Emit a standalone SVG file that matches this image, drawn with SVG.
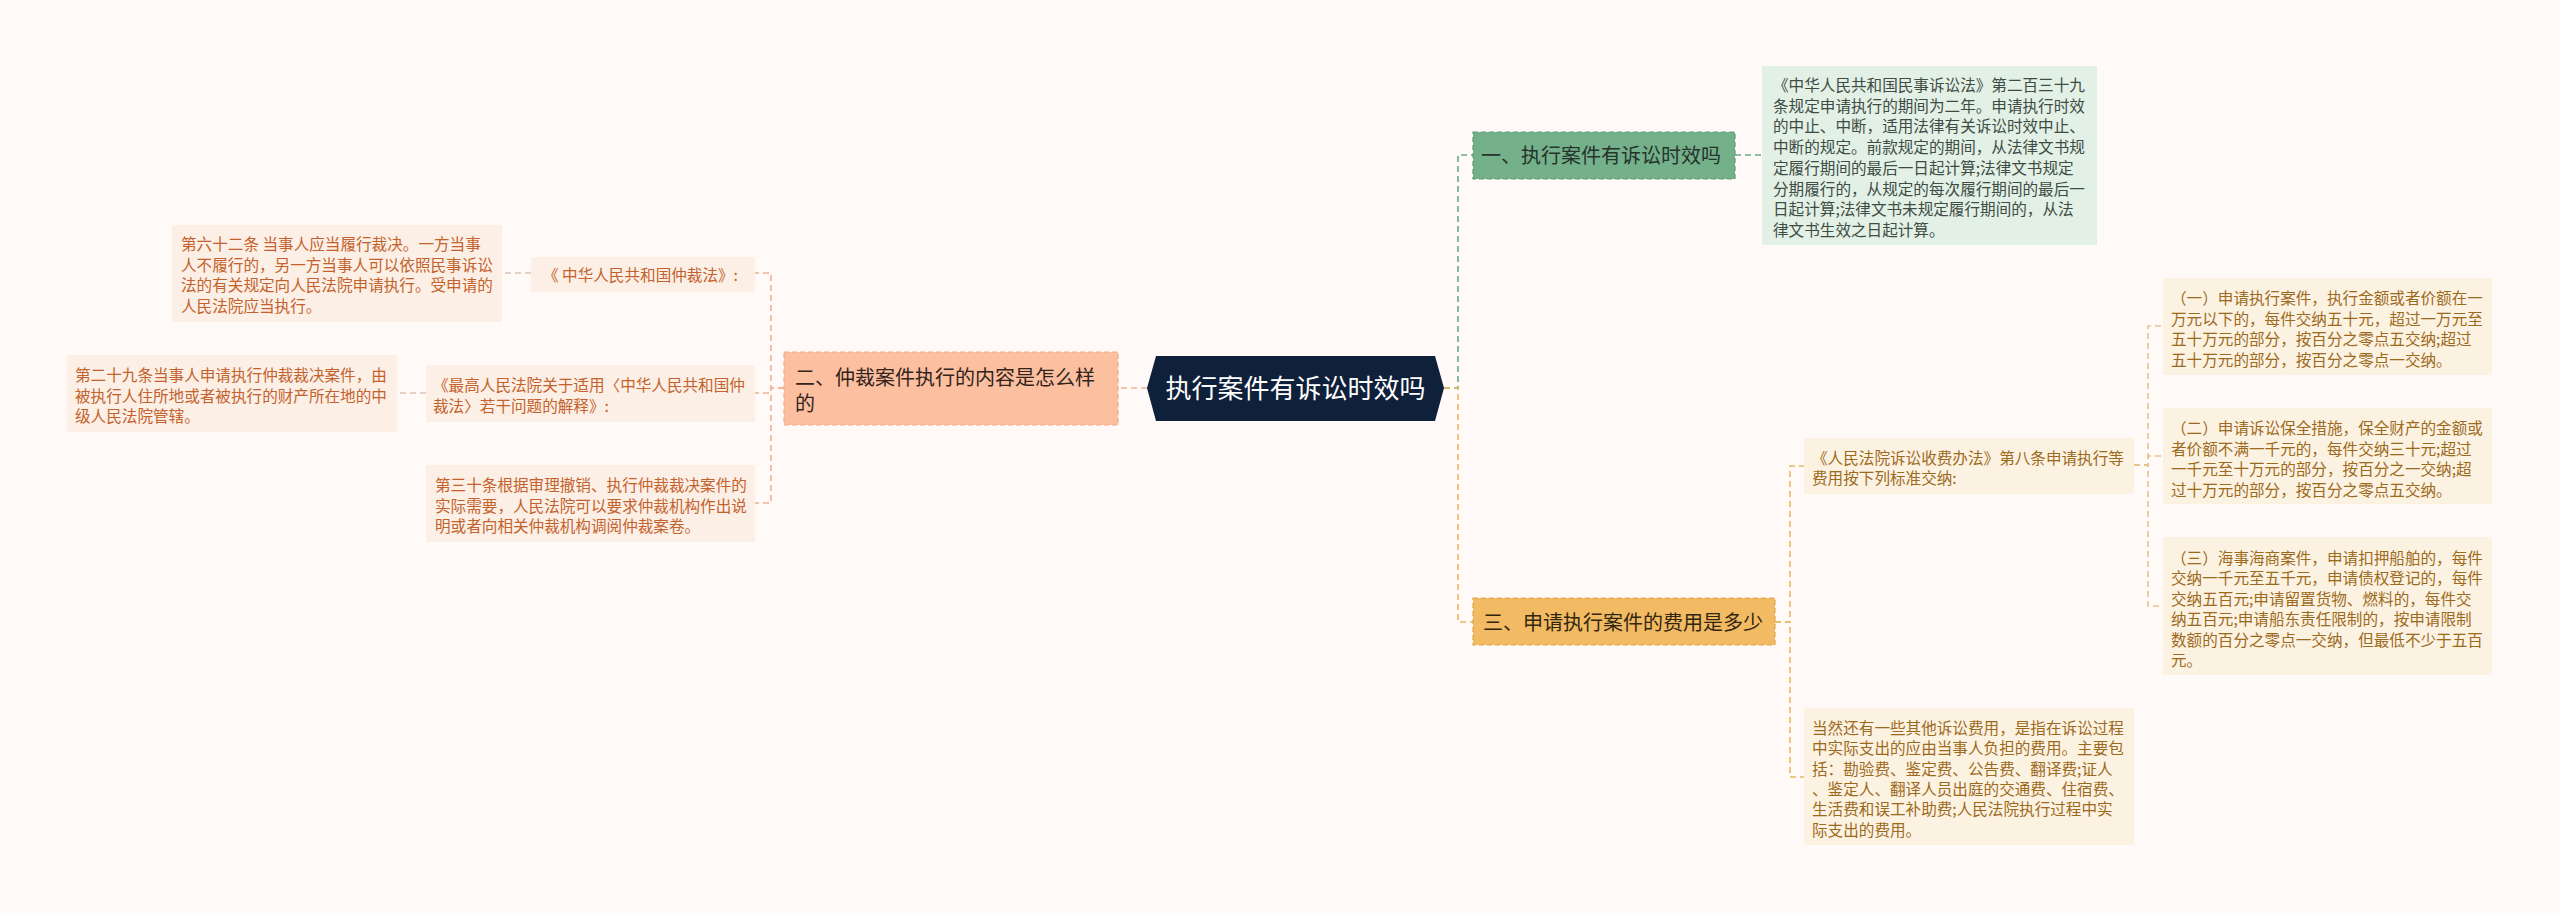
<svg xmlns="http://www.w3.org/2000/svg" width="2560" height="913" viewBox="0 0 2560 913">
<defs>
<style>
text{font-family:"Noto Sans CJK SC","Liberation Sans",sans-serif;}
.bg{fill:#fffaf8;}
.conn{fill:none;stroke-width:1.6;stroke-dasharray:6 4;}
.cg{stroke:#6aa982;}
.cy{stroke:#e6b862;}
.cs{stroke:#f4b295;}
.cl{stroke:#dcc2b2;}
.cyl{stroke:#e4c48a;}
.leaf{font-size:15.6px;}
.lo{fill:#c4622d;}
.ly{fill:#9c6a1c;}
.lg{fill:#3e4c44;}
.br{font-size:20px;}
</style>
</defs>
<rect class="bg" x="0" y="0" width="2560" height="913"/>

<g id="connectors">
<path class="conn cs" d="M1147,388 H1118"/>
<path class="conn cs" d="M784,388 H771 V273 H755"/>
<path class="conn cs" d="M784,388 H771 V393 H755"/>
<path class="conn cs" d="M784,388 H771 V503 H755"/>
<path class="conn cl" d="M531,273 H502"/>
<path class="conn cl" d="M426,393 H397"/>
<path class="conn cg" d="M1444,388 H1458 V155 H1473"/>
<path class="conn cg" d="M1735,155 H1762"/>
<path class="conn cy" d="M1444,388 H1458 V622 H1473"/>
<path class="conn cy" d="M1775,622 H1790 V466 H1804"/>
<path class="conn cy" d="M1775,622 H1790 V777 H1804"/>
<path class="conn cyl" d="M2134,465 H2148 V326 H2163"/>
<path class="conn cyl" d="M2134,465 H2148 V456 H2163"/>
<path class="conn cyl" d="M2134,465 H2148 V606 H2163"/>
</g>

<g id="center">
<polygon points="1147,388 1156,356 1435,356 1444,388 1435,421 1156,421" fill="#0f203a"/>
<text x="1295.5" y="398" font-size="26" fill="#ffffff" text-anchor="middle">执行案件有诉讼时效吗</text>
</g>

<g id="branch1">
<rect x="1473" y="132" width="262" height="47" fill="#74b08a" stroke="#5e9c74" stroke-width="1.2" stroke-dasharray="5 3"/>
<text class="br" x="1481" y="163" fill="#26342c">一、执行案件有诉讼时效吗</text>
</g>

<g id="b1-text">
<rect x="1762" y="66" width="335" height="179" fill="#e2f0e6"/>
<text class="leaf lg">
<tspan x="1773" y="91">《中华人民共和国民事诉讼法》第二百三十九</tspan>
<tspan x="1773" y="111.7">条规定申请执行的期间为二年。申请执行时效</tspan>
<tspan x="1773" y="132.4">的中止、中断，适用法律有关诉讼时效中止、</tspan>
<tspan x="1773" y="153.1">中断的规定。前款规定的期间，从法律文书规</tspan>
<tspan x="1773" y="173.8">定履行期间的最后一日起计算;法律文书规定</tspan>
<tspan x="1773" y="194.5">分期履行的，从规定的每次履行期间的最后一</tspan>
<tspan x="1773" y="215.2">日起计算;法律文书未规定履行期间的，从法</tspan>
<tspan x="1773" y="235.9">律文书生效之日起计算。</tspan>
</text>
</g>

<g id="branch2">
<rect x="784" y="352" width="334" height="73" fill="#fcbf9f" stroke="#f2a985" stroke-width="1.2" stroke-dasharray="5 3"/>
<text class="br" fill="#33241c">
<tspan x="795" y="384.6">二、仲裁案件执行的内容是怎么样</tspan>
<tspan x="795" y="410.6">的</tspan>
</text>
</g>

<g id="b2-a">
<rect x="531" y="257" width="224" height="35" fill="#fcefe5"/>
<text class="leaf lo" x="543" y="281">《 中华人民共和国仲裁法》:</text>
</g>

<g id="b2-a1">
<rect x="172" y="225" width="330" height="97" fill="#fcefe5"/>
<text class="leaf lo">
<tspan x="181" y="250">第六十二条 当事人应当履行裁决。一方当事</tspan>
<tspan x="181" y="270.5">人不履行的，另一方当事人可以依照民事诉讼</tspan>
<tspan x="181" y="291">法的有关规定向人民法院申请执行。受申请的</tspan>
<tspan x="181" y="311.5">人民法院应当执行。</tspan>
</text>
</g>

<g id="b2-b">
<rect x="426" y="365" width="329" height="57" fill="#fcefe5"/>
<text class="leaf lo">
<tspan x="433" y="391">《最高人民法院关于适用〈中华人民共和国仲</tspan>
<tspan x="433" y="411.5">裁法〉若干问题的解释》:</tspan>
</text>
</g>

<g id="b2-b1">
<rect x="67" y="355" width="330" height="77" fill="#fcefe5"/>
<text class="leaf lo">
<tspan x="75" y="381">第二十九条当事人申请执行仲裁裁决案件，由</tspan>
<tspan x="75" y="401.5">被执行人住所地或者被执行的财产所在地的中</tspan>
<tspan x="75" y="422">级人民法院管辖。</tspan>
</text>
</g>

<g id="b2-c">
<rect x="426" y="465" width="329" height="77" fill="#fcefe5"/>
<text class="leaf lo">
<tspan x="435" y="491">第三十条根据审理撤销、执行仲裁裁决案件的</tspan>
<tspan x="435" y="511.5">实际需要，人民法院可以要求仲裁机构作出说</tspan>
<tspan x="435" y="532">明或者向相关仲裁机构调阅仲裁案卷。</tspan>
</text>
</g>

<g id="branch3">
<rect x="1473" y="598" width="302" height="47" fill="#f1ba63" stroke="#e2a64a" stroke-width="1.2" stroke-dasharray="5 3"/>
<text class="br" x="1483" y="629.5" fill="#33260f">三、申请执行案件的费用是多少</text>
</g>

<g id="b3-d">
<rect x="1804" y="438" width="330" height="56" fill="#fcf2e2"/>
<text class="leaf ly">
<tspan x="1812" y="464">《人民法院诉讼收费办法》第八条申请执行等</tspan>
<tspan x="1812" y="484">费用按下列标准交纳:</tspan>
</text>
</g>

<g id="b3-d1">
<rect x="2163" y="278" width="329" height="97" fill="#fcf2e2"/>
<text class="leaf ly">
<tspan x="2171" y="304">（一）申请执行案件，执行金额或者价额在一</tspan>
<tspan x="2171" y="324.5">万元以下的，每件交纳五十元，超过一万元至</tspan>
<tspan x="2171" y="345">五十万元的部分，按百分之零点五交纳;超过</tspan>
<tspan x="2171" y="365.5">五十万元的部分，按百分之零点一交纳。</tspan>
</text>
</g>

<g id="b3-d2">
<rect x="2163" y="408" width="329" height="96" fill="#fcf2e2"/>
<text class="leaf ly">
<tspan x="2171" y="434">（二）申请诉讼保全措施，保全财产的金额或</tspan>
<tspan x="2171" y="454.5">者价额不满一千元的，每件交纳三十元;超过</tspan>
<tspan x="2171" y="475">一千元至十万元的部分，按百分之一交纳;超</tspan>
<tspan x="2171" y="495.5">过十万元的部分，按百分之零点五交纳。</tspan>
</text>
</g>

<g id="b3-d3">
<rect x="2163" y="537" width="329" height="138" fill="#fcf2e2"/>
<text class="leaf ly">
<tspan x="2171" y="564">（三）海事海商案件，申请扣押船舶的，每件</tspan>
<tspan x="2171" y="584.4">交纳一千元至五千元，申请债权登记的，每件</tspan>
<tspan x="2171" y="604.8">交纳五百元;申请留置货物、燃料的，每件交</tspan>
<tspan x="2171" y="625.2">纳五百元;申请船东责任限制的，按申请限制</tspan>
<tspan x="2171" y="645.6">数额的百分之零点一交纳，但最低不少于五百</tspan>
<tspan x="2171" y="666">元。</tspan>
</text>
</g>

<g id="b3-e">
<rect x="1804" y="708" width="330" height="137" fill="#fcf2e2"/>
<text class="leaf ly">
<tspan x="1812" y="734">当然还有一些其他诉讼费用，是指在诉讼过程</tspan>
<tspan x="1812" y="754.3">中实际支出的应由当事人负担的费用。主要包</tspan>
<tspan x="1812" y="774.6">括：勘验费、鉴定费、公告费、翻译费;证人</tspan>
<tspan x="1812" y="794.9">、鉴定人、翻译人员出庭的交通费、住宿费、</tspan>
<tspan x="1812" y="815.2">生活费和误工补助费;人民法院执行过程中实</tspan>
<tspan x="1812" y="835.5">际支出的费用。</tspan>
</text>
</g>
</svg>
